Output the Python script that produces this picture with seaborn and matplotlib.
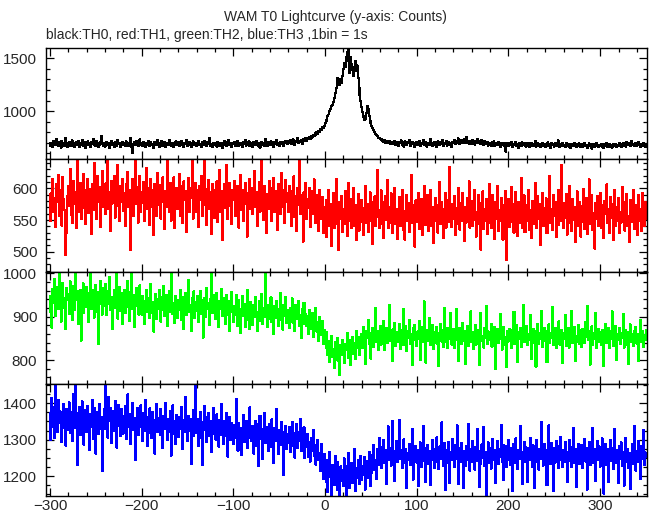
import numpy as np
import matplotlib
matplotlib.use("Agg")
import matplotlib.pyplot as plt
import matplotlib.ticker as mticker
import seaborn as sns

# Light curve counts, 1 s bins starting at t = -300 s
t_start = -300

th0 = [
    672, 701, 688, 659, 713, 694, 677, 731, 682, 665, 706, 690, 652, 719, 684, 698, 671, 742, 680, 663,
    695, 708, 667, 684, 721, 673, 690, 657, 702, 688, 676, 714, 661, 699, 683, 728, 670, 692, 705, 648,
    687, 711, 679, 694, 662, 703, 685, 736, 674, 690, 668, 712, 693, 655, 681, 704, 761, 689, 672, 697,
    664, 683, 709, 676, 698, 651, 688, 715, 679, 693, 660, 702, 686, 671, 725, 684, 697, 658, 690, 708,
    675, 692, 666, 713, 684, 699, 671, 687, 745, 662, 607, 690, 703, 678, 716, 685, 669, 694, 731, 680,
    697, 673, 706, 688, 659, 700, 682, 719, 667, 691, 705, 676, 688, 654, 710, 693, 677, 728, 684, 662,
    699, 686, 714, 671, 690, 705, 663, 683, 697, 675, 722, 689, 668, 701, 680, 657, 694, 711, 678, 686,
    703, 669, 688, 717, 676, 692, 655, 699, 684, 727, 670, 691, 706, 681, 662, 698, 713, 674, 687, 700,
    666, 694, 712, 680, 689, 657, 703, 675, 695, 720, 684, 668, 707, 690, 745, 673, 688, 659, 701, 685,
    678, 696, 664, 710, 687, 673, 701, 690, 652, 694, 715, 681, 669, 703, 688, 724, 676, 692, 661, 699,
    684, 707, 671, 690, 718, 665, 695, 682, 700, 677, 658, 704, 689, 726, 673, 692, 680, 711, 667, 698,
    686, 663, 709, 693, 678, 720, 685, 671, 699, 654, 692, 708, 680, 695, 673, 731, 688, 666, 702, 690,
    676, 714, 697, 683, 661, 705, 689, 723, 680, 698, 671, 710, 692, 685, 707, 668, 700, 719, 694, 687,
    712, 695, 724, 688, 706, 730, 699, 681, 718, 709, 741, 697, 715, 703, 726, 690, 735, 712, 721, 748,
    716, 742, 731, 755, 738, 764, 749, 772, 760, 789, 775, 801, 786, 812, 798, 831, 819, 847, 836, 862,
    884, 902, 921, 953, 968, 1004, 1019, 1047, 1058, 1083, 1124, 1168, 1221, 1274, 1312, 1287, 1251, 1304, 1268, 1335,
    1398, 1452, 1417, 1508, 1563, 1604, 1472, 1358, 1514, 1447, 1386, 1329, 1413, 1476, 1378, 1432, 1318, 1227, 1146, 1093,
    1041, 987, 948, 912, 927, 983, 1045, 1018, 958, 907, 882, 861, 838, 817, 798, 786, 769, 763, 745, 741,
    731, 722, 738, 715, 709, 726, 698, 714, 705, 693, 719, 688, 702, 710, 684, 697, 715, 679, 703, 690,
    672, 706, 695, 721, 683, 699, 664, 711, 688, 675, 702, 693, 728, 670, 684, 709, 691, 657, 697, 683,
    704, 679, 692, 715, 668, 700, 686, 723, 675, 694, 710, 662, 689, 701, 678, 733, 687, 669, 698, 706,
    681, 695, 659, 712, 690, 676, 704, 685, 721, 667, 699, 688, 714, 673, 693, 707, 680, 696, 662, 710,
    702, 725, 689, 716, 698, 741, 707, 684, 722, 711, 693, 730, 701, 718, 756, 695, 713, 689, 720, 704,
    691, 727, 709, 683, 715, 700, 738, 694, 712, 686, 705, 723, 697, 680, 716, 699, 688, 708, 673, 701,
    694, 670, 703, 687, 712, 665, 690, 698, 676, 707, 684, 662, 695, 681, 701, 672, 689, 616, 696, 678,
    667, 699, 683, 705, 660, 688, 674, 694, 709, 671, 685, 652, 697, 680, 666, 702, 689, 675, 698, 663,
    684, 671, 695, 658, 680, 701, 667, 689, 676, 715, 662, 683, 694, 670, 687, 655, 679, 699, 672, 686,
    661, 690, 677, 703, 668, 684, 652, 693, 675, 688, 664, 700, 681, 670, 724, 676, 659, 687, 673, 695,
    668, 681, 657, 694, 672, 686, 663, 679, 648, 690, 675, 666, 698, 680, 659, 684, 671, 693, 662, 677,
    689, 658, 674, 697, 666, 681, 652, 676, 692, 669, 684, 645, 671, 687, 663, 679, 701, 668, 655, 682,
    673, 690, 661, 678, 649, 684, 670, 695, 658, 676, 687, 664, 680, 653, 691, 672, 666, 685, 656, 679,
    668, 693, 675, 659, 686, 701, 671, 682, 664, 709, 688, 676, 697, 669, 715, 683, 691, 672, 700, 678,
    665, 689, 703, 674, 658, 686, 671, 694, 680, 662, 677,
]

th1 = [
    548, 592, 571, 614, 563, 585, 539, 607, 578, 621, 556, 597, 574, 541, 618, 583, 566, 495, 529, 588,
    604, 572, 631, 558, 589, 545, 612, 576, 594, 537, 646, 581, 563, 608, 552, 590, 623, 569, 597, 544,
    583, 615, 561, 599, 574, 528, 606, 587, 640, 566, 593, 551, 619, 578, 602, 539, 585, 627, 570, 596,
    559, 608, 581, 646, 567, 594, 533, 611, 576, 589, 620, 554, 598, 572, 637, 585, 548, 603, 579, 614,
    565, 592, 541, 606, 584, 626, 570, 598, 503, 581, 614, 557, 590, 646, 575, 602, 546, 587, 619, 563,
    594, 577, 610, 549, 588, 632, 568, 601, 542, 583, 615, 571, 597, 526, 606, 580, 556, 624, 589, 573,
    605, 552, 590, 617, 578, 536, 596, 571, 643, 584, 562, 608, 549, 593, 575, 617, 537, 586, 601, 568,
    589, 623, 557, 604, 576, 545, 611, 582, 595, 531, 578, 616, 563, 600, 585, 646, 552, 591, 573, 609,
    562, 597, 539, 604, 581, 620, 556, 588, 643, 573, 599, 542, 585, 613, 567, 594, 528, 607, 579, 553,
    598, 574, 611, 547, 586, 629, 563, 595, 518, 580, 606, 569, 590, 637, 551, 584, 609, 572, 543, 597,
    581, 612, 556, 593, 570, 604, 538, 587, 621, 566, 598, 549, 583, 608, 575, 524, 592, 567, 615, 579,
    601, 559, 588, 627, 571, 594, 541, 582, 610, 563, 596, 646, 574, 550, 603, 585, 529, 591, 568, 612,
    577, 600, 548, 589, 616, 562, 595, 573, 534, 607, 581, 559, 624, 586, 570, 598, 545, 613, 579, 592,
    563, 604, 578, 541, 596, 570, 619, 555, 587, 532, 601, 574, 646, 560, 590, 568, 516, 594, 577, 608,
    552, 583, 569, 601, 539, 578, 596, 560, 614, 571, 545, 589, 563, 532, 598, 575, 551, 586, 529, 570,
    548, 581, 523, 566, 597, 540, 575, 509, 558, 592, 537, 570, 615, 544, 561, 503, 579, 552, 588, 531,
    567, 543, 596, 558, 525, 574, 609, 549, 583, 537, 562, 600, 541, 574, 518, 556, 591, 533, 568, 547,
    582, 553, 527, 569, 604, 546, 575, 531, 560, 594, 549, 578, 512, 563, 587, 541, 572, 629, 555, 538,
    566, 597, 543, 579, 522, 561, 588, 550, 613, 537, 570, 546, 592, 559, 529, 576, 601, 544, 567, 520,
    553, 586, 541, 572, 598, 535, 564, 519, 557, 590, 548, 577, 531, 562, 621, 545, 573, 556, 508, 581,
    547, 569, 592, 536, 561, 583, 527, 555, 604, 542, 576, 551, 589, 533, 566, 597, 540, 571, 514, 558,
    585, 549, 574, 530, 563, 610, 544, 579, 556, 521, 568, 593, 538, 560, 582, 547, 634, 565, 539, 575,
    552, 588, 526, 569, 543, 601, 558, 535, 577, 549, 592, 563, 517, 571, 546, 584, 555, 611, 538, 566,
    580, 541, 573, 598, 550, 524, 562, 589, 544, 576, 503, 558, 595, 536, 567, 549, 583, 528, 564, 607,
    545, 571, 537, 590, 556, 520, 578, 551, 603, 533, 566, 548, 585, 561, 519, 574, 542, 596, 487, 557,
    583, 539, 568, 602, 547, 575, 530, 561, 594, 552, 525, 579, 546, 570, 616, 538, 563, 589, 531, 556,
    574, 548, 597, 535, 566, 521, 580, 557, 543, 609, 564, 537, 588, 552, 575, 511, 560, 593, 541, 569,
    550, 584, 529, 572, 559, 619, 545, 567, 534, 590, 556, 578, 523, 563, 598, 542, 571, 549, 637, 560,
    538, 576, 553, 591, 527, 568, 545, 604, 558, 532, 583, 550, 571, 516, 565, 595, 541, 579, 556, 524,
    572, 547, 599, 536, 563, 585, 528, 557, 614, 543, 569, 590, 534, 561, 505, 577, 552, 588, 540, 566,
    593, 537, 574, 551, 522, 580, 559, 606, 545, 568, 530, 586, 553, 575, 518, 562, 597, 541, 571, 548,
    584, 529, 563, 546, 602, 555, 578, 533, 569, 591, 540, 557, 515, 581, 547, 573, 598, 536, 562, 550,
    574, 526, 589, 548, 567, 532, 593, 557, 541, 578, 552,
]

th2 = [
    912, 948, 875, 963, 931, 987, 902, 944, 968, 917, 1004, 936, 889, 955, 978, 921, 942, 871, 966, 938,
    953, 906, 981, 929, 947, 892, 970, 915, 1003, 939, 958, 884, 926, 962, 845, 941, 977, 908, 951, 923,
    969, 932, 887, 954, 1005, 917, 943, 961, 898, 935, 973, 912, 956, 838, 929, 982, 946, 905, 967, 924,
    941, 976, 903, 958, 929, 991, 915, 946, 872, 937, 962, 920, 1004, 948, 896, 931, 969, 913, 955, 884,
    936, 961, 909, 945, 983, 922, 957, 890, 940, 1002, 918, 951, 877, 934, 966, 925, 947, 905, 972, 929,
    905, 948, 926, 883, 937, 962, 911, 943, 897, 929, 975, 908, 934, 866, 921, 953, 894, 940, 917, 961,
    928, 889, 946, 915, 970, 902, 933, 951, 879, 924, 958, 912, 937, 1003, 906, 931, 885, 947, 920, 898,
    939, 916, 962, 893, 928, 945, 871, 917, 954, 903, 936, 984, 911, 927, 868, 942, 919, 958, 897, 933,
    914, 947, 888, 925, 960, 906, 938, 852, 921, 943, 899, 966, 917, 931, 882, 940, 1004, 909, 926, 951,
    895, 929, 954, 912, 876, 937, 918, 963, 901, 926, 944, 884, 915, 950, 903, 936, 867, 921, 957, 910,
    887, 924, 905, 951, 879, 913, 938, 896, 863, 918, 947, 901, 929, 876, 908, 961, 893, 915, 872, 934,
    906, 881, 927, 899, 945, 912, 868, 903, 936, 890, 917, 952, 884, 921, 899, 1002, 908, 877, 926, 894,
    913, 945, 887, 909, 861, 924, 898, 937, 905, 879, 918, 954, 893, 911, 870, 928, 902, 946, 885, 916,
    899, 873, 921, 904, 942, 886, 912, 867, 926, 895, 909, 937, 878, 903, 851, 918, 891, 932, 883, 907,
    878, 902, 861, 915, 889, 872, 908, 854, 893, 881, 920, 866, 887, 845, 899, 874, 858, 891, 838, 870,
    856, 829, 864, 812, 843, 796, 837, 855, 808, 826, 782, 841, 816, 851, 799, 828, 765, 834, 811, 847,
    819, 793, 838, 824, 862, 806, 831, 847, 788, 826, 854, 815, 839, 802, 867, 829, 845, 811, 853, 834,
    861, 828, 876, 843, 792, 868, 851, 893, 837, 862, 803, 849, 874, 830, 858, 921, 842, 867, 824, 853,
    879, 836, 862, 847, 891, 823, 858, 874, 839, 866, 926, 845, 853, 798, 871, 850, 885, 832, 864, 841,
    857, 883, 826, 869, 846, 918, 835, 862, 879, 820, 851, 868, 893, 838, 859, 789, 873, 847, 881, 855,
    832, 866, 849, 890, 801, 858, 876, 841, 935, 853, 794, 870, 845, 862, 896, 834, 857, 880, 826, 864,
    851, 877, 838, 862, 786, 855, 884, 843, 869, 830, 921, 856, 841, 874, 827, 861, 848, 908, 836, 858,
    872, 829, 856, 917, 847, 863, 797, 875, 852, 838, 886, 845, 867, 791, 859, 878, 833, 869, 850, 912,
    842, 864, 826, 857, 881, 836, 870, 848, 788, 861, 909, 844, 856, 829, 874, 851, 924, 838, 866, 847,
    859, 883, 831, 868, 845, 877, 779, 854, 871, 839, 863, 906, 848, 824, 860, 876, 835, 852, 784, 866,
    843, 872, 855, 828, 869, 846, 911, 837, 858, 881, 796, 864, 849, 875, 831, 856, 927, 841, 868, 852,
    879, 834, 861, 846, 904, 802, 857, 872, 840, 866, 785, 853, 884, 838, 862, 849, 913, 830, 858, 873,
    845, 867, 795, 855, 882, 839, 863, 850, 922, 834, 858, 873, 827, 861, 846, 889, 836, 852, 870, 793,
    863, 848, 903, 833, 857, 874, 829, 865, 851, 914, 840, 862, 876, 799, 856, 843, 880, 837, 869, 852,
    831, 872, 858, 840, 887, 853, 924, 846, 866, 790, 859, 878, 836, 862, 848, 908, 829, 855, 871, 843,
    864, 835, 870, 852, 786, 861, 883, 840, 857, 875, 828, 866, 849, 912, 832, 858, 845, 879, 801, 860,
    847, 873, 838, 862, 851, 907, 829, 856, 870, 835, 864, 792, 853, 882, 843, 859, 832, 868, 849, 876,
    838, 861, 797, 855, 893, 842, 866, 831, 858, 847, 869,
]

th3 = [
    1372, 1298, 1415, 1336, 1389, 1304, 1452, 1357, 1321, 1408, 1345, 1378, 1293, 1366, 1331, 1397, 1350, 1284, 1384, 1327,
    1361, 1402, 1318, 1375, 1296, 1349, 1426, 1333, 1453, 1374, 1231, 1358, 1390, 1312, 1367, 1405, 1339, 1286, 1381, 1352,
    1322, 1393, 1347, 1271, 1369, 1335, 1410, 1301, 1356, 1388, 1262, 1342, 1377, 1316, 1399, 1330, 1362, 1213, 1345, 1384,
    1453, 1329, 1372, 1306, 1418, 1351, 1388, 1290, 1344, 1379, 1323, 1406, 1359, 1278, 1337, 1395, 1366, 1309, 1383, 1342,
    1317, 1364, 1392, 1302, 1348, 1425, 1334, 1371, 1287, 1355, 1401, 1326, 1360, 1243, 1341, 1387, 1312, 1368, 1335, 1394,
    1349, 1296, 1372, 1325, 1408, 1340, 1283, 1361, 1319, 1386, 1343, 1305, 1376, 1353, 1262, 1337, 1398, 1321, 1358, 1331,
    1384, 1312, 1346, 1277, 1365, 1330, 1401, 1341, 1298, 1356, 1322, 1379, 1256, 1339, 1394, 1316, 1351, 1288, 1368, 1334,
    1307, 1362, 1329, 1389, 1345, 1274, 1353, 1321, 1418, 1338, 1296, 1366, 1325, 1357, 1232, 1333, 1380, 1310, 1348, 1453,
    1319, 1357, 1282, 1340, 1376, 1305, 1231, 1348, 1393, 1326, 1361, 1293, 1335, 1372, 1311, 1352, 1267, 1329, 1386, 1316,
    1343, 1300, 1369, 1324, 1281, 1355, 1313, 1397, 1332, 1289, 1350, 1309, 1374, 1338, 1253, 1326, 1362, 1298, 1345, 1317,
    1287, 1339, 1306, 1412, 1321, 1270, 1346, 1299, 1333, 1258, 1317, 1368, 1294, 1325, 1351, 1276, 1341, 1304, 1389, 1313,
    1296, 1337, 1262, 1319, 1352, 1283, 1344, 1228, 1310, 1365, 1301, 1329, 1247, 1316, 1374, 1291, 1335, 1308, 1268, 1343,
    1318, 1279, 1356, 1302, 1236, 1331, 1297, 1384, 1312, 1260, 1325, 1293, 1349, 1285, 1321, 1203, 1306, 1338, 1274, 1315,
    1292, 1335, 1266, 1309, 1348, 1283, 1318, 1251, 1301, 1343, 1276, 1322, 1296, 1357, 1269, 1310, 1287, 1334, 1249, 1298,
    1281, 1316, 1252, 1293, 1240, 1305, 1268, 1327, 1256, 1284, 1231, 1273, 1299, 1244, 1262, 1214, 1288, 1247, 1192, 1261,
    1228, 1183, 1243, 1156, 1212, 1267, 1198, 1145, 1231, 1205, 1176, 1254, 1219, 1162, 1238, 1201, 1145, 1226, 1187, 1215,
    1173, 1248, 1209, 1145, 1226, 1190, 1263, 1168, 1214, 1236, 1181, 1201, 1274, 1159, 1222, 1195, 1243, 1177, 1211, 1256,
    1189, 1227, 1203, 1252, 1163, 1218, 1241, 1196, 1266, 1172, 1233, 1209, 1259, 1286, 1217, 1245, 1193, 1274, 1231, 1305,
    1248, 1279, 1222, 1264, 1299, 1236, 1271, 1178, 1257, 1336, 1243, 1276, 1229, 1262, 1352, 1251, 1186, 1268, 1297, 1239,
    1283, 1353, 1247, 1270, 1221, 1258, 1301, 1236, 1275, 1168, 1263, 1244, 1289, 1230, 1256, 1329, 1190, 1266, 1249, 1282,
    1237, 1271, 1172, 1255, 1292, 1226, 1263, 1338, 1241, 1278, 1183, 1254, 1286, 1232, 1268, 1176, 1259, 1298, 1245, 1222,
    1274, 1240, 1306, 1257, 1219, 1281, 1248, 1347, 1262, 1227, 1290, 1162, 1253, 1272, 1236, 1294, 1181, 1266, 1243, 1301,
    1258, 1224, 1285, 1247, 1339, 1262, 1177, 1276, 1239, 1291, 1251, 1167, 1268, 1227, 1282, 1245, 1344, 1260, 1215, 1273,
    1238, 1296, 1254, 1218, 1279, 1242, 1330, 1261, 1170, 1269, 1234, 1287, 1250, 1334, 1228, 1265, 1147, 1256, 1292, 1237,
    1276, 1220, 1258, 1302, 1244, 1271, 1180, 1263, 1297, 1232, 1274, 1253, 1341, 1240, 1286, 1188, 1259, 1281, 1226, 1267,
    1298, 1245, 1231, 1277, 1158, 1262, 1289, 1236, 1303, 1254, 1219, 1272, 1248, 1337, 1265, 1178, 1257, 1294, 1239, 1280,
    1252, 1184, 1276, 1243, 1305, 1259, 1225, 1284, 1166, 1266, 1238, 1299, 1251, 1218, 1273, 1246, 1348, 1262, 1229, 1287,
    1241, 1270, 1175, 1255, 1339, 1263, 1232, 1290, 1249, 1159, 1276, 1237, 1297, 1256, 1221, 1282, 1245, 1308, 1260, 1226,
    1271, 1238, 1294, 1253, 1183, 1267, 1300, 1242, 1279, 1224, 1258, 1333, 1236, 1274, 1169, 1261, 1288, 1233, 1269, 1247,
    1285, 1222, 1264, 1301, 1240, 1277, 1163, 1256, 1293, 1230, 1268, 1249, 1331, 1235, 1274, 1187, 1259, 1296, 1243, 1281,
    1226, 1267, 1304, 1245, 1152, 1262, 1288, 1231, 1273, 1184, 1257, 1299, 1242, 1278, 1219, 1264, 1330, 1237, 1270, 1253,
    1182, 1281, 1246, 1292, 1228, 1266, 1173, 1258, 1305, 1240, 1275, 1221, 1262, 1165, 1249, 1287, 1234, 1337, 1256, 1215,
    1269, 1238, 1297, 1251, 1191, 1283, 1246, 1326, 1231, 1265, 1252,
]

series = [th0, th1, th2, th3]
colors = ["black", "#ff0000", "#00ff00", "#0000ff"]
ylims = [(550, 1598), (468, 647), (745, 1003), (1145, 1453)]
y_major = [500, 50, 100, 100]
y_minor = [100, 10, 20, 25]

sns.set_style("ticks")
plt.rcParams["font.family"] = ["Liberation Sans", "DejaVu Sans"]

fig = plt.figure(figsize=(6.52, 5.15), dpi=100)

# panel edges in pixels (top, bottom)
edges = [(48, 158.5), (158.5, 272), (272, 384), (384, 496)]
left, right = 45.7 / 652, 646.5 / 652

for i, vals in enumerate(series):
    top, bot = edges[i]
    ax = fig.add_axes([left, 1 - bot / 515, right - left, (bot - top) / 515])
    t = t_start + np.arange(len(vals))
    sns.lineplot(x=t, y=vals, ax=ax, color=colors[i], linewidth=0.8,
                 drawstyle="steps-mid", estimator=None, antialiased=False)
    ax.set_xlim(-304.7, 350.5)
    ax.set_ylim(*ylims[i])
    ax.xaxis.set_major_locator(mticker.MultipleLocator(100))
    ax.xaxis.set_minor_locator(mticker.MultipleLocator(20))
    ax.yaxis.set_major_locator(mticker.MultipleLocator(y_major[i]))
    ax.yaxis.set_minor_locator(mticker.MultipleLocator(y_minor[i]))
    ax.tick_params(which="both", direction="in", top=True, right=True,
                   width=0.9, color="black", labelsize=11)
    ax.tick_params(which="major", length=5.5)
    ax.tick_params(which="minor", length=3)
    ax.tick_params(axis="x", which="major", pad=2.5)
    ax.tick_params(axis="y", which="major", pad=6)
    if i < 3:
        ax.tick_params(axis="x", labelbottom=False)
    ax.set_xlabel("")
    ax.set_ylabel("")
    for s in ax.spines.values():
        s.set_linewidth(1.0)
        s.set_color("black")

fig.text(335 / 652, 1 - 17 / 515, "WAM T0 Lightcurve (y-axis: Counts)",
         ha="center", va="center", fontsize=10)
fig.text(46 / 652, 1 - 35 / 515, "black:TH0, red:TH1, green:TH2, blue:TH3 ,1bin = 1s",
         ha="left", va="center", fontsize=10)

fig.savefig("out.png", dpi=100)
